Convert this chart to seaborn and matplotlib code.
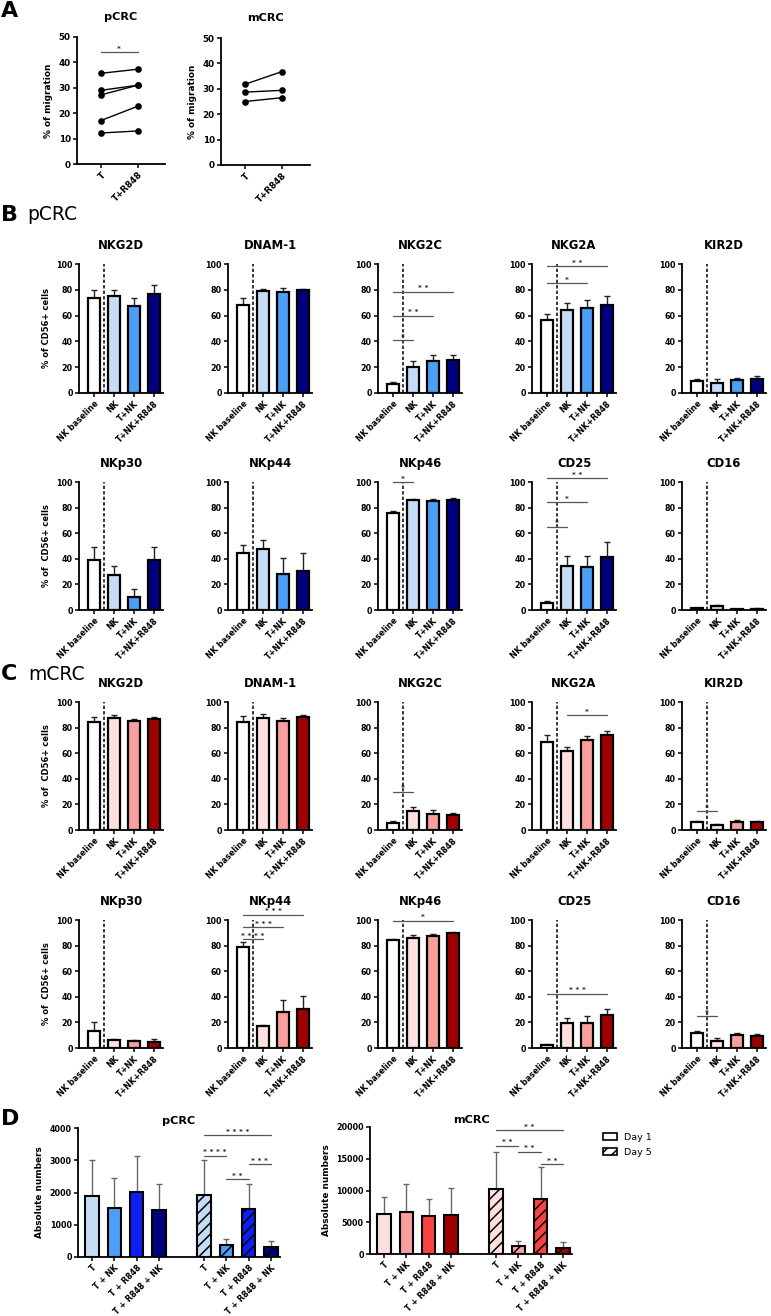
import numpy as np
import pandas as pd
import matplotlib
matplotlib.use("Agg")
import matplotlib.pyplot as plt
import seaborn as sns
from matplotlib.patches import Patch

# ---------------- DATA ----------------
# Panel A: % of migration (paired donors)
A_conditions = ["T", "T+R848"]
A_pcrc_T = [35.7, 29.0, 27.2, 17.1, 12.2]
A_pcrc_R848 = [37.3, 31.0, 31.0, 22.7, 13.0]
A_mcrc_T = [31.8, 28.7, 25.0]
A_mcrc_R848 = [36.8, 29.4, 26.5]

# Panels B/C: % of CD56+ cells (mean, mean+SEM)
conditions = ["NK baseline", "NK", "T+NK", "T+NK+R848"]
markers_row1 = ["NKG2D", "DNAM-1", "NKG2C", "NKG2A", "KIR2D"]
markers_row2 = ["NKp30", "NKp44", "NKp46", "CD25", "CD16"]

p_NKG2D = [74.0, 75.5, 67.5, 76.5];  p_NKG2D_top = [79.5, 79.5, 74.0, 83.5]
p_DNAM1 = [68.5, 79.0, 78.0, 79.5];  p_DNAM1_top = [73.5, 80.5, 81.5, 81.0]
p_NKG2C = [6.7, 20.0, 24.5, 25.3];   p_NKG2C_top = [8.5, 25.0, 29.5, 29.5]
p_NKG2A = [56.5, 64.0, 66.0, 68.5];  p_NKG2A_top = [61.0, 69.5, 72.0, 75.0]
p_KIR2D = [9.0, 8.0, 10.0, 11.0];    p_KIR2D_top = [11.0, 10.5, 11.5, 13.0]
p_NKp30 = [39.0, 27.0, 10.4, 39.0];  p_NKp30_top = [49.5, 34.0, 16.4, 49.5]
p_NKp44 = [44.5, 48.0, 28.0, 30.5];  p_NKp44_top = [51.0, 54.5, 41.0, 44.5]
p_NKp46 = [76.0, 86.0, 85.5, 86.0];  p_NKp46_top = [77.5, 87.0, 86.5, 87.5]
p_CD25 = [5.3, 34.0, 33.5, 41.5];    p_CD25_top = [7.0, 42.0, 42.0, 53.0]
p_CD16 = [1.3, 3.1, 0.6, 1.0];       p_CD16_top = [1.8, 3.9, 1.0, 1.8]

m_NKG2D = [84.5, 87.5, 85.0, 87.0];  m_NKG2D_top = [88.0, 89.5, 87.0, 88.5]
m_DNAM1 = [84.0, 87.5, 85.0, 88.0];  m_DNAM1_top = [89.0, 90.5, 87.5, 90.0]
m_NKG2C = [5.5, 14.8, 12.2, 11.5];   m_NKG2C_top = [6.8, 18.2, 15.9, 13.5]
m_NKG2A = [68.5, 62.0, 70.0, 74.5];  m_NKG2A_top = [74.0, 65.0, 73.5, 77.0]
m_KIR2D = [6.5, 4.0, 6.0, 6.0];      m_KIR2D_top = [7.0, 4.8, 7.5, 7.2]
m_NKp30 = [13.0, 6.0, 5.5, 5.0];     m_NKp30_top = [20.0, 7.0, 6.0, 7.0]
m_NKp44 = [79.0, 17.0, 28.5, 30.5];  m_NKp44_top = [83.0, 18.0, 37.5, 41.0]
m_NKp46 = [84.0, 86.0, 87.5, 89.5];  m_NKp46_top = [85.5, 88.0, 89.0, 90.5]
m_CD25 = [2.5, 19.5, 19.5, 25.5];    m_CD25_top = [3.5, 23.5, 25.0, 30.5]
m_CD16 = [12.0, 5.5, 10.5, 9.5];     m_CD16_top = [13.5, 7.5, 12.0, 11.0]

# significance brackets: (from index, to index, height, label)
p_NKG2C_sig = [(0, 1, 41, "*"), (0, 2, 60, "* *"), (0, 3, 78.5, "* *")]
p_NKG2A_sig = [(0, 2, 85, "*"), (0, 3, 98.5, "* *")]
p_NKp46_sig = [(0, 1, 100, "*")]
p_CD25_sig = [(0, 1, 65, "*"), (0, 2, 84, "*"), (0, 3, 103, "* *")]
m_NKG2C_sig = [(0, 1, 30, "*")]
m_NKG2A_sig = [(1, 3, 89.5, "*")]
m_KIR2D_sig = [(0, 1, 14.5, "*")]
m_NKp44_sig = [(0, 1, 85, "* * * *"), (0, 2, 94.5, "* * *"), (0, 3, 104, "* * *")]
m_NKp46_sig = [(0, 3, 99.5, "*")]
m_CD25_sig = [(0, 3, 42.5, "* * *")]
m_CD16_sig = [(0, 1, 25, "*")]

# Panel D: absolute numbers (mean, mean+SD)
D_conditions = ["T", "T + NK", "T + R848", "T + R848 + NK"]
pD_day1 = [1880, 1520, 2010, 1460];  pD_day1_top = [3000, 2450, 3130, 2250]
pD_day5 = [1920, 360, 1480, 300];    pD_day5_top = [3000, 550, 2260, 490]
mD_day1 = [6300, 6650, 6050, 6200];  mD_day1_top = [8930, 11000, 8620, 10340]
mD_day5 = [10230, 1190, 8620, 940];  mD_day5_top = [15990, 2080, 13730, 1880]
pD_sig = [(0, 1, 3146, "* * * *"), (1, 2, 2411, "* *"), (2, 3, 2878, "* * *"), (0, 3, 3769, "* * * *")]
mD_sig = [(0, 1, 17022, "* *"), (1, 2, 16081, "* *"), (2, 3, 14154, "* *"), (0, 3, 19483, "* *")]

# ---------------- STYLE ----------------
sns.set_style("ticks")
plt.rcParams["font.family"] = ["DejaVu Sans"]
plt.rcParams["font.weight"] = "bold"
plt.rcParams["axes.labelweight"] = "bold"
plt.rcParams["axes.titleweight"] = "bold"
plt.rcParams["hatch.linewidth"] = 1.1
for key in ["text.color", "axes.labelcolor", "xtick.color", "ytick.color", "axes.edgecolor"]:
    plt.rcParams[key] = "black"

pcrc_colors = ["white", "#c5dcf6", "#4c9ef6", "#00007f"]
mcrc_colors = ["white", "#fde0df", "#f9a09f", "#9e0000"]
pD_colors = ["#c5dcf6", "#4c9ef6", "#0d1ef5", "#00007f"]
mD_colors = ["#fde0df", "#f9a09f", "#f94342", "#9e0000"]

W, H = 771, 1316
fig = plt.figure(figsize=(W / 100, H / 100), dpi=100)


def px_axes(l, t, r, b):
    return fig.add_axes([l / W, 1 - b / H, (r - l) / W, (b - t) / H])


def style_axes(ax, fs=5.8):
    for s in ["top", "right"]:
        ax.spines[s].set_visible(False)
    for s in ["left", "bottom"]:
        ax.spines[s].set_linewidth(1.3)
        ax.spines[s].set_color("black")
    ax.tick_params(axis="both", length=3, width=1.1, labelsize=fs, pad=1.5, colors="black")
    for lbl in ax.get_xticklabels() + ax.get_yticklabels():
        lbl.set_fontweight("bold")


def add_sig(ax, x1, x2, y, text, fs=5.3):
    ax.plot([x1, x2], [y, y], color="#555555", lw=0.9, clip_on=False, zorder=4)
    ax.annotate(text, xy=((x1 + x2) / 2, y), xytext=(0, 0.3), textcoords="offset points",
                ha="center", va="bottom", fontsize=fs, color="#222222", annotation_clip=False)


# ---------------- PANEL A ----------------
def panel_A(ax, t_vals, r_vals, title, sig=False):
    n = len(t_vals)
    df = pd.DataFrame({
        "donor": list(range(n)) * 2,
        "cond": [A_conditions[0]] * n + [A_conditions[1]] * n,
        "val": list(t_vals) + list(r_vals),
    })
    sns.lineplot(data=df, x="cond", y="val", units="donor", estimator=None, color="black",
                 marker="o", markersize=4.8, markeredgewidth=0, lw=1.0, ax=ax)
    ax.set_ylim(0, 50)
    ax.set_yticks([0, 10, 20, 30, 40, 50])
    ax.set_xlim(-0.65, 1.75)
    ax.set_xlabel("")
    ax.set_ylabel("% of migration", fontsize=6.4)
    ax.set_title(title, fontsize=8.1, pad=12.5)
    if sig:
        add_sig(ax, 0, 1, 44, "*")
    style_axes(ax, fs=6.3)
    plt.setp(ax.get_xticklabels(), rotation=45, ha="right", rotation_mode="anchor")


axA1 = px_axes(77, 37, 165, 164)
panel_A(axA1, A_pcrc_T, A_pcrc_R848, "pCRC", sig=True)
axA2 = px_axes(221, 38, 310, 165)
panel_A(axA2, A_mcrc_T, A_mcrc_R848, "mCRC")


# ---------------- PANELS B / C ----------------
def nk_panel(ax, title, mean, top, colors, sig, ylabel):
    df = pd.DataFrame({"cond": conditions, "val": mean})
    sns.barplot(data=df, x="cond", y="val", order=conditions, color="white", width=0.6,
                edgecolor="black", linewidth=1.6, errorbar=None, ax=ax, zorder=2)
    for p in ax.patches:
        idx = int(round(p.get_x() + p.get_width() / 2))
        p.set_facecolor(colors[idx])
    err = np.array(top) - np.array(mean)
    ax.errorbar(np.arange(len(mean)), mean, yerr=[np.zeros(len(mean)), err], fmt="none",
                ecolor="#222222", elinewidth=1.0, capsize=2.3, capthick=1.0, zorder=1)
    ax.plot([0.5, 0.5], [0, 100], ls=(0, (2.2, 1.4)), color="black", lw=1.1, zorder=3)
    ax.set_ylim(0, 100)
    ax.set_yticks([0, 20, 40, 60, 80, 100])
    ax.set_xlim(-0.75, 3.45)
    ax.set_xlabel("")
    ax.set_ylabel(ylabel, fontsize=6.0)
    ax.set_title(title, fontsize=8.4, pad=10.5)
    for (i, j, y, t) in sig:
        add_sig(ax, i, j, y, t)
    style_axes(ax, fs=5.8)
    plt.setp(ax.get_xticklabels(), rotation=45, ha="right", rotation_mode="anchor")


col_left = [79, 228, 378, 532, 682]
col_w = 84
row_tb = [(264, 393), (482, 610), (702, 830), (920, 1048)]
row_ylabels = ["% of CD56+ cells", "% of  CD56+ cells", "% of  CD56+ cells", "% of  CD56+ cells"]

p_row1 = [(p_NKG2D, p_NKG2D_top, []), (p_DNAM1, p_DNAM1_top, []), (p_NKG2C, p_NKG2C_top, p_NKG2C_sig),
          (p_NKG2A, p_NKG2A_top, p_NKG2A_sig), (p_KIR2D, p_KIR2D_top, [])]
p_row2 = [(p_NKp30, p_NKp30_top, []), (p_NKp44, p_NKp44_top, []), (p_NKp46, p_NKp46_top, p_NKp46_sig),
          (p_CD25, p_CD25_top, p_CD25_sig), (p_CD16, p_CD16_top, [])]
m_row1 = [(m_NKG2D, m_NKG2D_top, []), (m_DNAM1, m_DNAM1_top, []), (m_NKG2C, m_NKG2C_top, m_NKG2C_sig),
          (m_NKG2A, m_NKG2A_top, m_NKG2A_sig), (m_KIR2D, m_KIR2D_top, m_KIR2D_sig)]
m_row2 = [(m_NKp30, m_NKp30_top, []), (m_NKp44, m_NKp44_top, m_NKp44_sig), (m_NKp46, m_NKp46_top, m_NKp46_sig),
          (m_CD25, m_CD25_top, m_CD25_sig), (m_CD16, m_CD16_top, m_CD16_sig)]

rows = [(p_row1, markers_row1, pcrc_colors), (p_row2, markers_row2, pcrc_colors),
        (m_row1, markers_row1, mcrc_colors), (m_row2, markers_row2, mcrc_colors)]

for r, (row_data, names, cols) in enumerate(rows):
    t, b = row_tb[r]
    for c, ((mean, top, sig), name) in enumerate(zip(row_data, names)):
        ax = px_axes(col_left[c], t, col_left[c] + col_w, b)
        nk_panel(ax, name, mean, top, cols, sig, ylabel=(row_ylabels[r] if c == 0 else ""))


# ---------------- PANEL D ----------------
def panel_D(ax, d1, d1top, d5, d5top, colors, sig, ymax, ystep, title):
    cats = [f"{c}|1" for c in D_conditions] + ["gap"] + [f"{c}|5" for c in D_conditions]
    present = [c for c in cats if c != "gap"]
    df = pd.DataFrame({"cat": present, "val": list(d1) + list(d5)})
    sns.barplot(data=df, x="cat", y="val", order=cats, color="white", width=0.6,
                edgecolor="black", linewidth=1.5, errorbar=None, ax=ax, zorder=2)
    for p in ax.patches:
        pos = int(round(p.get_x() + p.get_width() / 2))
        k = pos if pos < 4 else pos - 5
        p.set_facecolor(colors[k])
        if pos >= 5:
            p.set_hatch("///")
    xs = [0, 1, 2, 3, 5, 6, 7, 8]
    means = np.array(list(d1) + list(d5), dtype=float)
    tops = np.array(list(d1top) + list(d5top), dtype=float)
    ax.errorbar(xs, means, yerr=[np.zeros(8), tops - means], fmt="none", ecolor="#666666",
                elinewidth=1.0, capsize=2.5, capthick=1.0, zorder=1)
    ax.set_ylim(0, ymax)
    ax.set_yticks(np.arange(0, ymax + 1, ystep))
    ax.set_xlim(-0.62, 8.4)
    ax.set_xticks(xs)
    ax.set_xticklabels(D_conditions + D_conditions)
    ax.set_xlabel("")
    ax.set_ylabel("Absolute numbers", fontsize=6.4)
    ax.set_title(title, fontsize=8.1, pad=3)
    for (i, j, y, t) in sig:
        add_sig(ax, 5 + i, 5 + j, y, t)
    style_axes(ax, fs=5.8)
    plt.setp(ax.get_xticklabels(), rotation=45, ha="right", rotation_mode="anchor")


axD1 = px_axes(78, 1128, 280, 1257)
panel_D(axD1, pD_day1, pD_day1_top, pD_day5, pD_day5_top, pD_colors, pD_sig, 4000, 1000, "pCRC")
axD2 = px_axes(370, 1127, 572, 1254)
panel_D(axD2, mD_day1, mD_day1_top, mD_day5, mD_day5_top, mD_colors, mD_sig, 20000, 5000, "mCRC")

fig.legend(handles=[Patch(facecolor="white", edgecolor="black", lw=1.2, label="Day 1"),
                    Patch(facecolor="white", edgecolor="black", lw=1.2, hatch="///", label="Day 5")],
           loc="upper left", bbox_to_anchor=(594 / W, 1 - 1124 / H), frameon=False,
           prop={"size": 6.8, "weight": "normal"}, handlelength=1.5, handleheight=0.8,
           labelspacing=0.7, handletextpad=0.8)

# ---------------- PANEL LETTERS ----------------
fig.text(1 / W, 1 - 11 / H, "A", fontsize=16, fontweight="bold", va="center", ha="left")
fig.text(1 / W, 1 - 215 / H, "B", fontsize=16, fontweight="bold", va="center", ha="left")
fig.text(27 / W, 1 - 215 / H, "pCRC", fontsize=13.5, fontweight="normal", va="center", ha="left")
fig.text(1 / W, 1 - 674 / H, "C", fontsize=16, fontweight="bold", va="center", ha="left")
fig.text(28 / W, 1 - 674 / H, "mCRC", fontsize=13.5, fontweight="normal", va="center", ha="left")
fig.text(1 / W, 1 - 1119 / H, "D", fontsize=16, fontweight="bold", va="center", ha="left")

fig.savefig("out.png", dpi=100)
